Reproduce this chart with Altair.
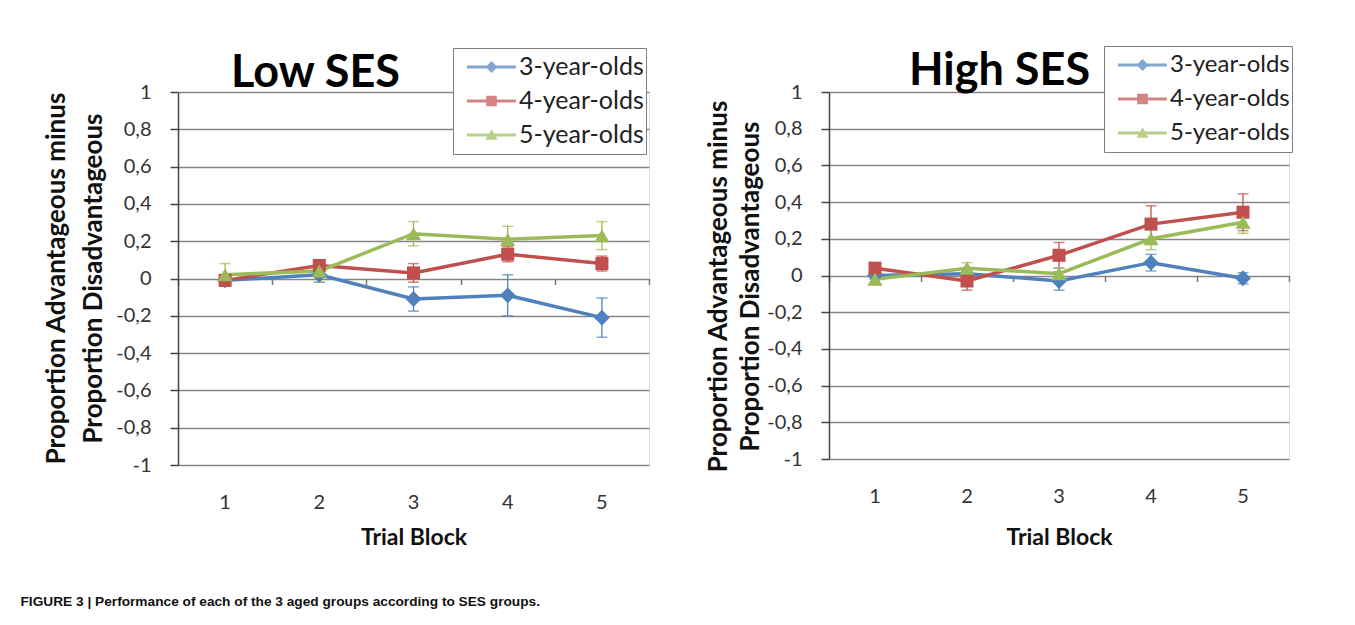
import altair as alt
import pandas as pd

blocks = [1, 2, 3, 4, 5]
series = ["3-year-olds", "4-year-olds", "5-year-olds"]
colors = ["#4F81BD", "#C0504D", "#9BBB59"]

# Low SES: means and error half-widths
low_3 = [-0.01, 0.02, -0.11, -0.09, -0.21]
low_3_err = [0.03, 0.04, 0.065, 0.11, 0.105]
low_4 = [-0.01, 0.07, 0.03, 0.13, 0.08]
low_4_err = [0.03, 0.03, 0.05, 0.04, 0.04]
low_5 = [0.02, 0.04, 0.24, 0.21, 0.23]
low_5_err = [0.06, 0.06, 0.065, 0.07, 0.075]

# High SES
high_3 = [0.0, 0.01, -0.03, 0.07, -0.015]
high_3_err = [0.02, 0.03, 0.05, 0.045, 0.03]
high_4 = [0.04, -0.03, 0.11, 0.28, 0.345]
high_4_err = [0.03, 0.05, 0.07, 0.10, 0.10]
high_5 = [-0.02, 0.04, 0.01, 0.20, 0.29]
high_5_err = [0.02, 0.03, 0.03, 0.06, 0.06]

y_ticks = [-1, -0.8, -0.6, -0.4, -0.2, 0, 0.2, 0.4, 0.6, 0.8, 1]
y_title = ["Proportion Advantageous minus", "Proportion Disadvantageous"]
caption = "FIGURE 3 | Performance of each of the 3 aged groups according to SES groups."

FONT = "Lato"


def make_df(vals, errs):
    rows = []
    for s, c, v, e in zip(series, colors, vals, errs):
        for b, vi, ei in zip(blocks, v, e):
            rows.append(dict(block=str(b), series=s, clr=c, value=vi, lo=vi - ei, hi=vi + ei))
    return pd.DataFrame(rows)


color_scale = alt.Scale(domain=series, range=colors)
LINE = "M-0.6,-0.05H1.03V0.05H-0.6Z "
shape_paths = [
    LINE + "M0.217,-0.2L0.417,0L0.217,0.2L0.017,0Z",
    LINE + "M0.04,-0.177H0.394V0.177H0.04Z",
    LINE + "M0.217,-0.19L0.417,0.16H0.017Z",
]
marker_shapes = ["diamond", "square", "triangle-up"]
marker_sizes = [250, 170, 230]


def panel(df, title, width, height, title_dx, ytitle_x, ytitle_y, ytitle_lh, xtitle_y,
          legend_y, legend_font):
    xs = alt.Scale(type="band", paddingInner=0, paddingOuter=0)
    ys = alt.Scale(domain=[-1, 1], nice=False, zero=False)
    yaxis = alt.Axis(
        values=y_ticks,
        labelExpr="replace(replace(format(datum.value, '.1~f'), '.', ','), '\u2212', '-')",
        grid=True, gridColor="#868686", gridWidth=1.5,
        domainColor="#444", domainWidth=1.5,
        tickColor="#444", tickWidth=1.5, tickSize=8,
        labelFont=FONT, labelFontSize=20, labelColor="#333", labelPadding=19,
        title=y_title, titleFont=FONT, titleFontSize=26, titleFontWeight="bold",
        titleColor="#111", titleX=ytitle_x, titleY=ytitle_y, titleBaseline="middle",
        titleAlign="center", titleLineHeight=ytitle_lh, titleAngle=270,
    )
    xaxis_labels = alt.Axis(
        orient="bottom", labelAngle=0, ticks=False, domain=False, grid=False,
        labelFont=FONT, labelFontSize=20, labelColor="#333", labelPadding=27,
        title="Trial Block", titleFont=FONT, titleFontSize=23, titleFontWeight="bold",
        titleColor="#111", titleY=xtitle_y, titleBaseline="middle",
    )
    xaxis_ticks = alt.Axis(
        orient="bottom", offset=-height / 2, labels=False, ticks=True,
        tickBand="extent", tickSize=6, tickColor="#777", tickWidth=1.5,
        domain=False, grid=False, title=None,
    )
    base = alt.Chart(df)
    X = lambda ax: alt.X("block:O", scale=xs, axis=ax, bandPosition=0.5)
    col = alt.Color("clr:N", scale=None)

    rules = base.mark_rule(strokeWidth=1.3).encode(
        x=X(xaxis_ticks), y=alt.Y("lo:Q", scale=ys, axis=yaxis), y2="hi:Q", color=col
    )
    caps = base.transform_fold(["lo", "hi"], as_=["end", "v"]).mark_tick(
        thickness=1.5, size=11
    ).encode(x=X(None), y=alt.Y("v:Q", scale=ys, axis=yaxis), color=col)
    lines = base.mark_line(strokeWidth=3.5).encode(
        x=X(xaxis_labels), y=alt.Y("value:Q", scale=ys, axis=yaxis), color=col,
        detail="series:N",
    )
    pts = []
    for s, c, shp, sz in zip(series, colors, marker_shapes, marker_sizes):
        pts.append(
            base.transform_filter(alt.datum.series == s)
            .mark_point(shape=shp, filled=True, size=sz, color=c, opacity=1)
            .encode(x=X(None), y=alt.Y("value:Q", scale=ys, axis=yaxis))
        )
    leg = alt.Legend(
        orient="none", legendX=275, legendY=legend_y, title=None,
        labelFont=FONT, labelFontSize=legend_font, labelColor="#222",
        symbolSize=3600, symbolStrokeWidth=0, symbolOpacity=1,
        fillColor="white", strokeColor="#7f7f7f", padding=2,
        rowPadding=0, clipHeight=34, labelOffset=4,
    )
    legend_layer = base.mark_point(filled=True, opacity=1, size=0).encode(
        x=X(None), y=alt.Y("value:Q", scale=ys, axis=yaxis),
        color=alt.Color("series:N", scale=color_scale, legend=leg),
        shape=alt.Shape("series:N", scale=alt.Scale(domain=series, range=shape_paths), legend=leg),
    )
    ch = alt.layer(rules, caps, lines, *pts, legend_layer).resolve_axis(x="independent")
    return ch.properties(
        width=width, height=height,
        title=alt.TitleParams(
            title, anchor="start", dx=title_dx, font=FONT, fontSize=45,
            fontWeight="bold", color="#000", offset=-48, frame="group",
        ),
    )


left = panel(make_df([low_3, low_4, low_5], [low_3_err, low_4_err, low_5_err]),
             "Low SES", 471, 373, 53, -122, 186, 37, 72, -44, 25)
right = panel(make_df([high_3, high_4, high_5], [high_3_err, high_4_err, high_5_err]),
              "High SES", 460, 367, 80, -111, 194, 32, 78, -46, 24)

chart = alt.hconcat(left, right, spacing=180, bounds="flush").resolve_scale(
    color="independent", shape="independent"
).resolve_legend(color="independent", shape="independent").properties(
    title=alt.TitleParams(
        caption, orient="bottom", anchor="start", font="Liberation Sans, Arial, sans-serif",
        fontSize=13.7, fontWeight="bold", color="#111", offset=45, dx=-22,
    ),
    padding={"left": 12, "top": 37, "right": 5, "bottom": 5},
).configure_view(stroke="#7f7f7f", strokeWidth=1.5).configure_legend(
    symbolOpacity=1
).configure(background="white")

chart.save("out.html", embed_options={"renderer": "svg", "actions": False})
